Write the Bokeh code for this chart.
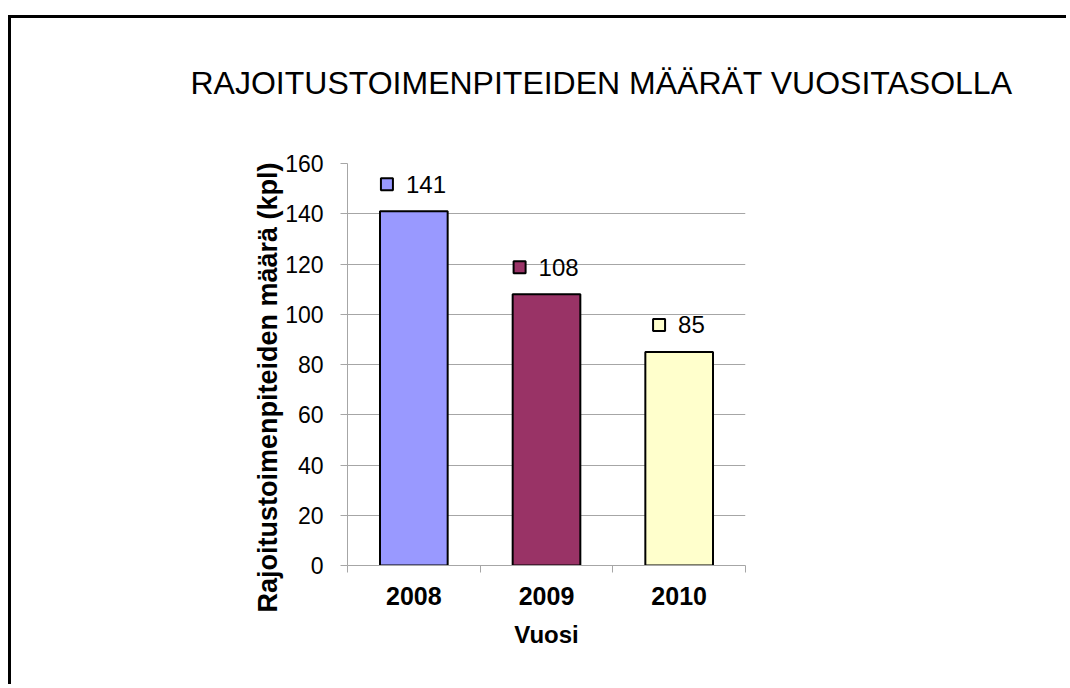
from bokeh.plotting import figure
from bokeh.models import (Range1d, FactorRange, LinearAxis, CategoricalAxis, FixedTicker,
                          CategoricalTicker, Title, ColumnDataSource, InlineStyleSheet)
from bokeh.core.properties import value
from bokeh.embed import file_html
from bokeh.resources import INLINE

# ---- data ----
years = ["2008", "2009", "2010"]
counts = [141, 108, 85]
colors = ["#9999FF", "#993366", "#FFFFCC"]
y_ticks = [0, 20, 40, 60, 80, 100, 120, 140, 160]
title_text = "RAJOITUSTOIMENPITEIDEN MÄÄRÄT VUOSITASOLLA"
y_title = "Rajoitustoimenpiteiden määrä (kpl)"
x_title = "Vuosi"

FONT = "Liberation Sans"
W, H = 1066, 684
FL, FT = 347, 163
FR, FB = W - 745, H - 565
plot_w = W - FL - FR
plot_h = H - FT - FB

frame_css = InlineStyleSheet(css="""
:host::after {
  content: '';
  position: absolute;
  left: 8px; top: 15px; right: 0; bottom: 0;
  border-left: 3px solid #000;
  border-top: 3px solid #000;
  pointer-events: none;
}
""")

p = figure(width=W, height=H, x_range=FactorRange(*years, range_padding=0),
           y_range=Range1d(0, 160), output_backend="svg", toolbar_location=None,
           x_axis_location=None, y_axis_location=None,
           min_border_left=FL, min_border_right=FR, min_border_top=FT, min_border_bottom=FB,
           stylesheets=[frame_css])
p.outline_line_color = None
p.background_fill_color = "white"
p.border_fill_color = "white"

GRAY = "#a6a6a6"

# title
title = Title(text=title_text, align="left", offset=-157, standoff=125,
              text_font=FONT, text_font_size="32px", text_font_style="normal",
              text_color="black")
p.add_layout(title, "above")

# y axis
yax = LinearAxis(ticker=FixedTicker(ticks=y_ticks))
yax.axis_line_color = GRAY
yax.major_tick_line_color = GRAY
yax.major_tick_out = 7
yax.major_tick_in = 0
yax.minor_tick_line_color = None
yax.major_label_text_font = FONT
yax.major_label_text_font_size = "23px"
yax.major_label_text_color = "black"
yax.major_label_standoff = 17
p.add_layout(yax, "left")

# y title (as a side title so it can be positioned along the axis)
ytitle = Title(text=y_title, align="left", offset=-47, standoff=0,
               text_font=FONT, text_font_size="27px", text_font_style="bold",
               text_color="black")
p.add_layout(ytitle, "left")

# x axis: boundary ticks
xtick_axis = LinearAxis(ticker=FixedTicker(ticks=list(range(len(years) + 1))))
xtick_axis.axis_line_color = GRAY
xtick_axis.major_tick_line_color = GRAY
xtick_axis.major_tick_out = 7
xtick_axis.major_tick_in = 0
xtick_axis.minor_tick_line_color = None
xtick_axis.major_label_text_font_size = "0px"
xtick_axis.major_label_text_color = None
xtick_axis.major_label_standoff = 0
p.add_layout(xtick_axis, "below")

xlab_axis = CategoricalAxis(ticker=CategoricalTicker())
xlab_axis.axis_line_color = None
xlab_axis.major_tick_line_color = None
xlab_axis.major_label_text_font = FONT
xlab_axis.major_label_text_font_size = "25px"
xlab_axis.major_label_text_font_style = "bold"
xlab_axis.major_label_text_color = "black"
xlab_axis.major_label_standoff = 8
xlab_axis.axis_label = x_title
xlab_axis.axis_label_text_font = FONT
xlab_axis.axis_label_text_font_size = "24px"
xlab_axis.axis_label_text_font_style = "bold"
xlab_axis.axis_label_text_color = "black"
xlab_axis.axis_label_standoff = 13
p.add_layout(xlab_axis, "below")

p.xgrid.grid_line_color = None
p.ygrid.grid_line_color = GRAY
p.ygrid.ticker = FixedTicker(ticks=y_ticks)

# bars
src = ColumnDataSource(dict(x=years, top=counts, color=colors))
p.vbar(x="x", top="top", width=0.51, source=src, fill_color="color",
       line_color="black", line_width=2)

# data labels: legend key + value
CW = 13.6  # approx digit width at 24px
GAP = 13
SQ = 12
LIFT = 27  # px above bar top
px_per_factor = plot_w / len(years)
px_per_unit = plot_h / 160
sq_x, label_y, txt_off, labels = [], [], [], []
for yr, v in zip(years, counts):
    tw = len(str(v)) * CW
    total = SQ + GAP + tw
    left = -total / 2
    sq_x.append((yr, (left + SQ / 2) / px_per_factor))
    txt_off.append(left + SQ + GAP)
    label_y.append(v + LIFT / px_per_unit)
    labels.append(str(v))
lsrc = ColumnDataSource(dict(x=years, sq_x=sq_x, y=label_y, color=colors,
                             txt_off=txt_off, label=labels))
p.rect(x="sq_x", y="y", width=SQ, height=SQ, width_units="screen", height_units="screen",
       source=lsrc, fill_color="color", line_color="black", line_width=2)
p.text(x="x", y="y", text="label", source=lsrc, x_offset="txt_off",
       text_font=value(FONT), text_font_size="24px", text_color="black",
       text_baseline="middle", text_align="left")

open("out.html", "w").write(file_html(p, INLINE))
